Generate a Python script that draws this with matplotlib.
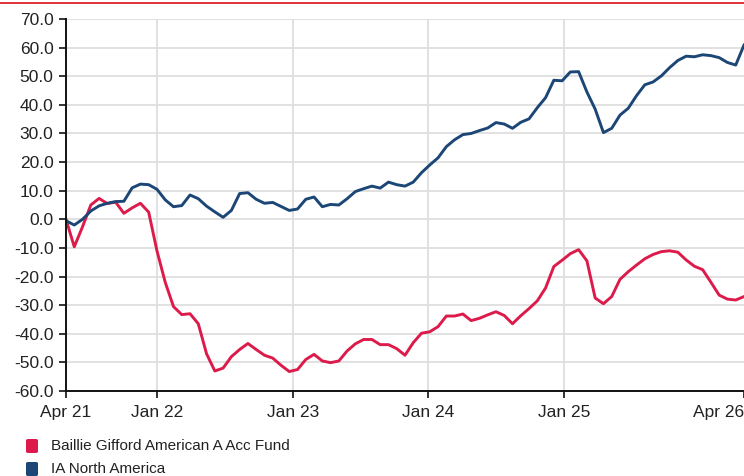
import matplotlib
matplotlib.use("Agg")
import matplotlib.pyplot as plt
import matplotlib.dates as mdates
from matplotlib.patches import FancyBboxPatch
from matplotlib.lines import Line2D
from matplotlib.ticker import FormatStrFormatter, MultipleLocator
import pandas as pd

plt.rcParams["font.family"] = ["Liberation Sans", "DejaVu Sans"]
plt.rcParams["axes.unicode_minus"] = False

# cumulative performance (%), sampled every ~3 weeks
start_date = "2021-04-30"
end_date = "2026-04-30"

fund_name = "Baillie Gifford American A Acc Fund"
fund_perf = [
    0.0, -9.6, -2.6, 5.0, 7.3, 5.5, 6.0, 2.1, 4.0, 5.6,
    2.5, -11.0, -22.0, -30.5, -33.3, -33.0, -36.5, -47.0, -53.0, -52.0,
    -48.0, -45.5, -43.4, -45.5, -47.5, -48.5, -51.0, -53.2, -52.5, -49.0,
    -47.2, -49.5, -50.1, -49.5, -46.0, -43.5, -42.0, -42.0, -43.8, -43.8,
    -45.2, -47.5, -43.1, -39.8, -39.3, -37.5, -33.8, -33.8, -33.1, -35.4,
    -34.6, -33.4, -32.3, -33.6, -36.5, -33.7, -31.2, -28.5, -24.0, -16.5,
    -14.3, -12.0, -10.6, -14.5, -27.5, -29.5, -27.0, -21.0, -18.3, -16.0,
    -13.8, -12.3, -11.3, -11.0, -11.5, -14.2, -16.4, -17.6, -22.0, -26.5,
    -27.9, -28.2, -27.0,
]

sector_name = "IA North America"
sector_perf = [
    -0.5, -2.0, 0.0, 2.9, 4.7, 5.6, 6.2, 6.3, 11.0, 12.3,
    12.1, 10.5, 6.8, 4.4, 4.8, 8.5, 7.2, 4.6, 2.6, 0.7,
    3.1, 9.0, 9.3, 7.0, 5.6, 5.9, 4.5, 3.1, 3.6, 7.0,
    7.8, 4.4, 5.2, 5.0, 7.2, 9.7, 10.7, 11.6, 10.9, 13.0,
    12.1, 11.6, 13.0, 16.3, 19.0, 21.5, 25.4, 27.8, 29.6, 30.0,
    31.0, 31.9, 33.8, 33.3, 31.8, 33.9, 35.1, 39.0, 42.5, 48.6,
    48.4, 51.5, 51.6, 44.5, 38.5, 30.3, 31.8, 36.4, 38.8, 43.2,
    47.0, 48.0, 50.1, 53.0, 55.5, 57.0, 56.8, 57.5, 57.2, 56.5,
    54.8, 53.9, 60.9,
]

tick_dates = ["2021-04-30", "2022-01-01", "2023-01-01", "2024-01-01",
              "2025-01-01", "2026-04-30"]
tick_labels = ["Apr 21", "Jan 22", "Jan 23", "Jan 24", "Jan 25", "Apr 26"]

fund_color = "#dc1b4b"
sector_color = "#1b4675"

dates = pd.date_range(start_date, end_date, periods=len(fund_perf))

fig = plt.figure(figsize=(7.44, 4.76), dpi=100)
ax = fig.add_axes([66 / 744, 1 - 391 / 476, 1 - 66 / 744, (391 - 19) / 476])

ax.plot(dates, fund_perf, color=fund_color, lw=2.1, solid_joinstyle="round", zorder=3)
ax.plot(dates, sector_perf, color=sector_color, lw=2.1, solid_joinstyle="round", zorder=4)

ax.set_ylim(-60, 70)
ax.set_xlim(pd.Timestamp(start_date), pd.Timestamp(end_date))
ax.yaxis.set_major_locator(MultipleLocator(10))
ax.yaxis.set_major_formatter(FormatStrFormatter("%.1f"))

ticks = [mdates.date2num(pd.Timestamp(d)) for d in tick_dates]
ax.set_xticks(ticks)
ax.set_xticklabels(tick_labels)
ax.get_xticklabels()[-1].set_horizontalalignment("right")

# light grid: horizontal every 10, vertical at each January
for v in range(-50, 71, 10):
    ax.axhline(v, color="#dedede", lw=1.3, zorder=1)
for t in ticks[1:-1]:
    ax.axvline(t, color="#dedede", lw=1.3, zorder=1)

for side in ("top", "right"):
    ax.spines[side].set_visible(False)
for side in ("left", "bottom"):
    ax.spines[side].set_color("#111111")
    ax.spines[side].set_linewidth(1.4)
    ax.spines[side].set_zorder(5)

ax.tick_params(axis="both", length=5, width=1.2, color="#111111",
               labelsize=12.5, labelcolor="#222222", direction="out")
ax.tick_params(axis="y", pad=4)
ax.tick_params(axis="x", pad=5)

# red rule along the top edge
fig.add_artist(Line2D([0, 1], [1 - 2.5 / 476, 1 - 2.5 / 476],
                      color="#e0222c", lw=1.3, transform=fig.transFigure))

# legend swatches
for i, (name, col) in enumerate([(fund_name, fund_color), (sector_name, sector_color)]):
    yc = 446 + i * 23
    fig.add_artist(FancyBboxPatch((26 / 744, 1 - (yc + 7) / 476), 12 / 744, 14 / 476,
                                  boxstyle="round,pad=0,rounding_size=0.003",
                                  transform=fig.transFigure, color=col, lw=0))
    fig.text(51 / 744, 1 - yc / 476, name, fontsize=11, color="#222222",
             va="center", ha="left")

fig.savefig("out.png", dpi=100)
